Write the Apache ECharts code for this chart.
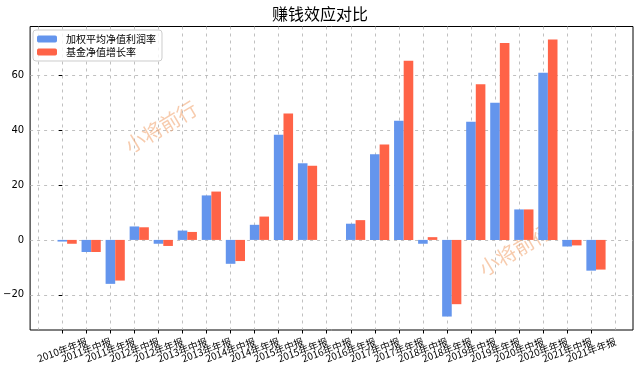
<!DOCTYPE html>
<html>
<head>
<meta charset="utf-8">
<script src="https://cdn.jsdelivr.net/npm/echarts@6/dist/echarts.min.js"></script>
<style>html,body{margin:0;padding:0;background:#fff}#c{width:640px;height:367px}</style>
</head>
<body>
<div id="c"></div>
<script>
const categories = ['2010年年报','2011年中报','2011年年报','2012年中报','2012年年报','2013年中报','2013年年报','2014年中报','2014年年报','2015年中报','2015年年报','2016年中报','2016年年报','2017年中报','2017年年报','2018年中报','2018年年报','2019年中报','2019年年报','2020年中报','2020年年报','2021年中报','2021年年报'];
const weightedNetRate = [-0.6,-4.4,-16.0,4.9,-1.4,3.4,16.2,-8.7,5.5,38.3,27.9,null,5.9,31.2,43.4,-1.4,-27.9,43.0,49.9,11.1,60.9,-2.4,-11.2];
const fundNavGrowth = [-1.4,-4.4,-14.8,4.6,-2.2,2.9,17.6,-7.7,8.5,46.0,27.0,null,7.2,34.7,65.2,1.0,-23.4,56.7,71.7,11.1,73.0,-2.0,-10.8];
const yTicks = [-20,0,20,40,60];
const seriesNames = ['加权平均净值利润率','基金净值增长率'];

const BAR_W = 0.4;
const xTicks = [];
for (let i = -1; i <= categories.length; i++) xTicks.push(i);

const chart = echarts.init(document.getElementById('c'));
const font = '"Noto Sans CJK SC", "DejaVu Sans", sans-serif';
const dash = {color: '#b0b0b0', width: 0.8, type: [3, 4]};
chart.setOption({
  animation: false,
  textStyle: {fontFamily: font},
  title: {text: '赚钱效应对比', left: 'center', top: 1, textStyle: {fontSize: 16, fontWeight: 'normal', color: '#000', fontFamily: font}},
  legend: {
    orient: 'vertical', left: 33, top: 30, itemWidth: 20, itemHeight: 7, itemGap: 3,
    padding: [4, 6, 4, 4], borderColor: '#cccccc', borderWidth: 1, borderRadius: 3,
    backgroundColor: 'rgba(255,255,255,0.8)',
    textStyle: {fontSize: 10, color: '#000', padding: [0, 0, 0, 4]},
    data: seriesNames
  },
  grid: {left: 28, right: 7, top: 26.5, bottom: 37, show: true, borderColor: '#000', borderWidth: 1, backgroundColor: 'transparent'},
  xAxis: {
    type: 'value', min: -1.34, max: 23.74,
    axisLine: {show: false, onZero: false},
    axisTick: {show: true, length: 3.5, lineStyle: {color: '#000'}, customValues: xTicks},
    axisLabel: {customValues: xTicks, formatter: v => categories[Math.round(v)] || '', rotate: 20, align: 'center', verticalAlign: 'middle', margin: 20, fontSize: 10, color: '#000', fontFamily: font, showMinLabel: false, showMaxLabel: false, hideOverlap: false},
    splitLine: {show: true, lineStyle: dash}
  },
  yAxis: {
    type: 'value', min: -32.8, max: 77.7,
    axisLine: {show: false},
    axisTick: {show: true, length: 3.5, lineStyle: {color: '#000'}, customValues: yTicks},
    axisLabel: {customValues: yTicks, formatter: v => (v < 0 ? '\u2212' + Math.abs(v) : String(v)), fontSize: 10, color: '#000', margin: 6, fontFamily: 'DejaVu Sans'},
    splitLine: {show: true, lineStyle: dash}
  },
  graphic: [
    {type: 'text', x: 161, y: 127, rotation: 31 * Math.PI / 180, z: 1,
     style: {text: '小将前行', fontSize: 20, fill: 'rgba(240,160,105,0.55)', align: 'center', verticalAlign: 'middle', fontFamily: font}},
    {type: 'text', x: 515, y: 250, rotation: 31 * Math.PI / 180, z: 1,
     style: {text: '小将前行', fontSize: 20, fill: 'rgba(240,160,105,0.55)', align: 'center', verticalAlign: 'middle', fontFamily: font}}
  ],
  series: [
    {name: seriesNames[0], type: 'bar', barWidth: 9.6, barGap: '-100%', z: 2, itemStyle: {color: '#6495ED'},
     data: weightedNetRate.map((v, i) => [i, v])},
    {name: seriesNames[1], type: 'bar', barWidth: 9.6, barGap: '-100%', z: 2, itemStyle: {color: '#FF6347'},
     data: fundNavGrowth.map((v, i) => [i + BAR_W, v])}
  ]
});
</script>
</body>
</html>
